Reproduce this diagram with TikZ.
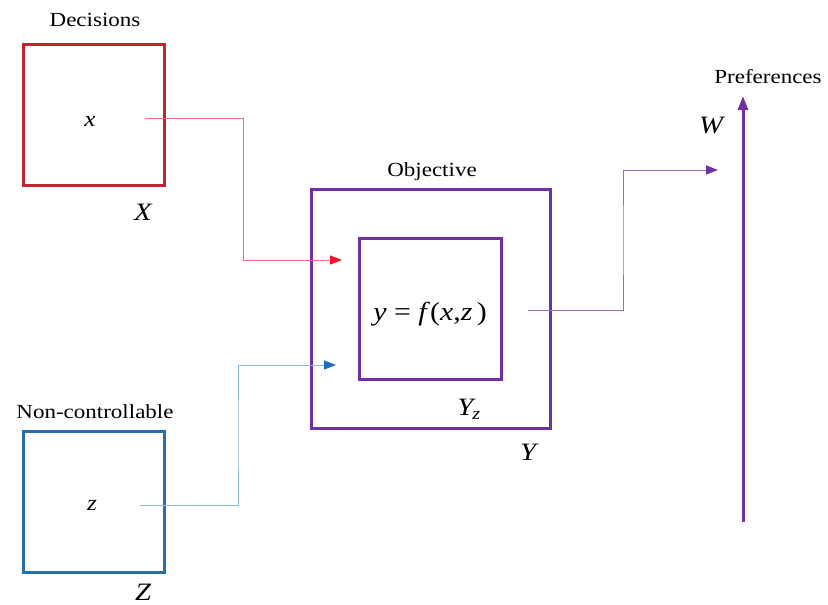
\documentclass[tikz,border=0pt]{standalone}
\usepackage{fontspec}
\setmainfont[FakeStretch=1.15]{Liberation Serif}
\usetikzlibrary{arrows.meta,positioning,calc}
\definecolor{decred}{RGB}{192,36,44}
\definecolor{lnred}{RGB}{240,110,130}
\definecolor{tipred}{RGB}{228,24,40}
\definecolor{ncblue}{RGB}{40,110,170}
\definecolor{lnblue}{RGB}{140,185,225}
\definecolor{tipblue}{RGB}{30,110,185}
\definecolor{objpurple}{RGB}{112,48,160}
\definecolor{lnpurple}{RGB}{150,110,190}
\tikzset{
  decbox/.style = {draw=decred, line width=3pt, minimum width=141pt, minimum height=141pt},
  ncbox/.style  = {draw=ncblue, line width=3pt, minimum width=141pt, minimum height=141pt},
  objbox/.style = {draw=objpurple, line width=3pt},
  lbl/.style    = {font=\fontsize{20}{24}\selectfont, inner sep=0pt},
  sym/.style    = {font=\fontsize{25}{28}\selectfont\itshape, inner sep=0pt},
  var/.style    = {font=\fontsize{22}{26}\selectfont\itshape, inner sep=0pt},
  redln/.style  = {draw=lnred, line width=1pt, -{Triangle[length=12pt,width=9pt,color=tipred]}},
  blueln/.style = {draw=lnblue, line width=1pt, -{Triangle[length=12pt,width=9pt,color=tipblue]}},
  purpln/.style = {draw=lnpurple, line width=1pt, -{Triangle[length=12pt,width=9pt,color=objpurple]}},
  prefax/.style = {draw=objpurple, line width=3pt, -{Triangle[length=14pt,width=10pt]}}
}
\begin{document}
\begin{tikzpicture}[x=1pt,y=1pt]
  \useasboundingbox (0,0) rectangle (828,-605);
  % decisions and non-controllable inputs
  \node[decbox] (dec) at (94,-115) {};
  \node[lbl] (declbl) at (95,-20) {Decisions};
  \node[var] (xv) at (90,-121) {x};
  \node[sym] (xset) at (143,-212) {X};
  \node[ncbox] (nc) at (94,-502) {};
  \node[lbl] (nclbl) at (95,-412) {Non-controllable};
  \node[var] (zv) at (92,-505) {z};
  \node[sym] (zset) at (143,-592) {Z};
  % objective
  \node[objbox, minimum width=239pt, minimum height=239pt] (obj) at (431,-309) {};
  \node[objbox, minimum width=142pt, minimum height=141pt] (objin) at (430.5,-309) {};
  \node[lbl] (objlbl) at (432,-172) {Objective};
  \node[font=\fontsize{26}{30}\selectfont, inner sep=0pt] (fxz) at (430,-314)
    {\textit{y} = \textit{f}(\textit{x},\textit{z}\,)};
  \node[sym] (yz) at (469,-409) {Y\textsubscript{\kern-1pt\textit{z}}};
  \node[sym] (yset) at (528,-452) {Y};
  % preferences
  \coordinate (wbot) at (743,-522);
  \coordinate (wtop) at (743,-96);
  \node[lbl] (preflbl) at (768,-77) {Preferences};
  \node[sym] (wset) at (711,-126) {W};
  \draw[prefax] (wbot) -- (wtop);
  % connectors
  \coordinate (xs) at (145,-118);
  \coordinate (xt) at (342,-260);
  \coordinate (zs) at (140,-505);
  \coordinate (zt) at (336,-365);
  \coordinate (ys) at (528,-310);
  \coordinate (yt) at (718,-170);
  \draw[redln]  (xs) -| ($(xs)!.5!(xt)$) |- (xt);
  \draw[blueln] (zs) -| ($(zs)!.5!(zt)$) |- (zt);
  \draw[purpln] (ys) -| ($(ys)!.5!(yt)$) |- (yt);
\end{tikzpicture}
\end{document}
